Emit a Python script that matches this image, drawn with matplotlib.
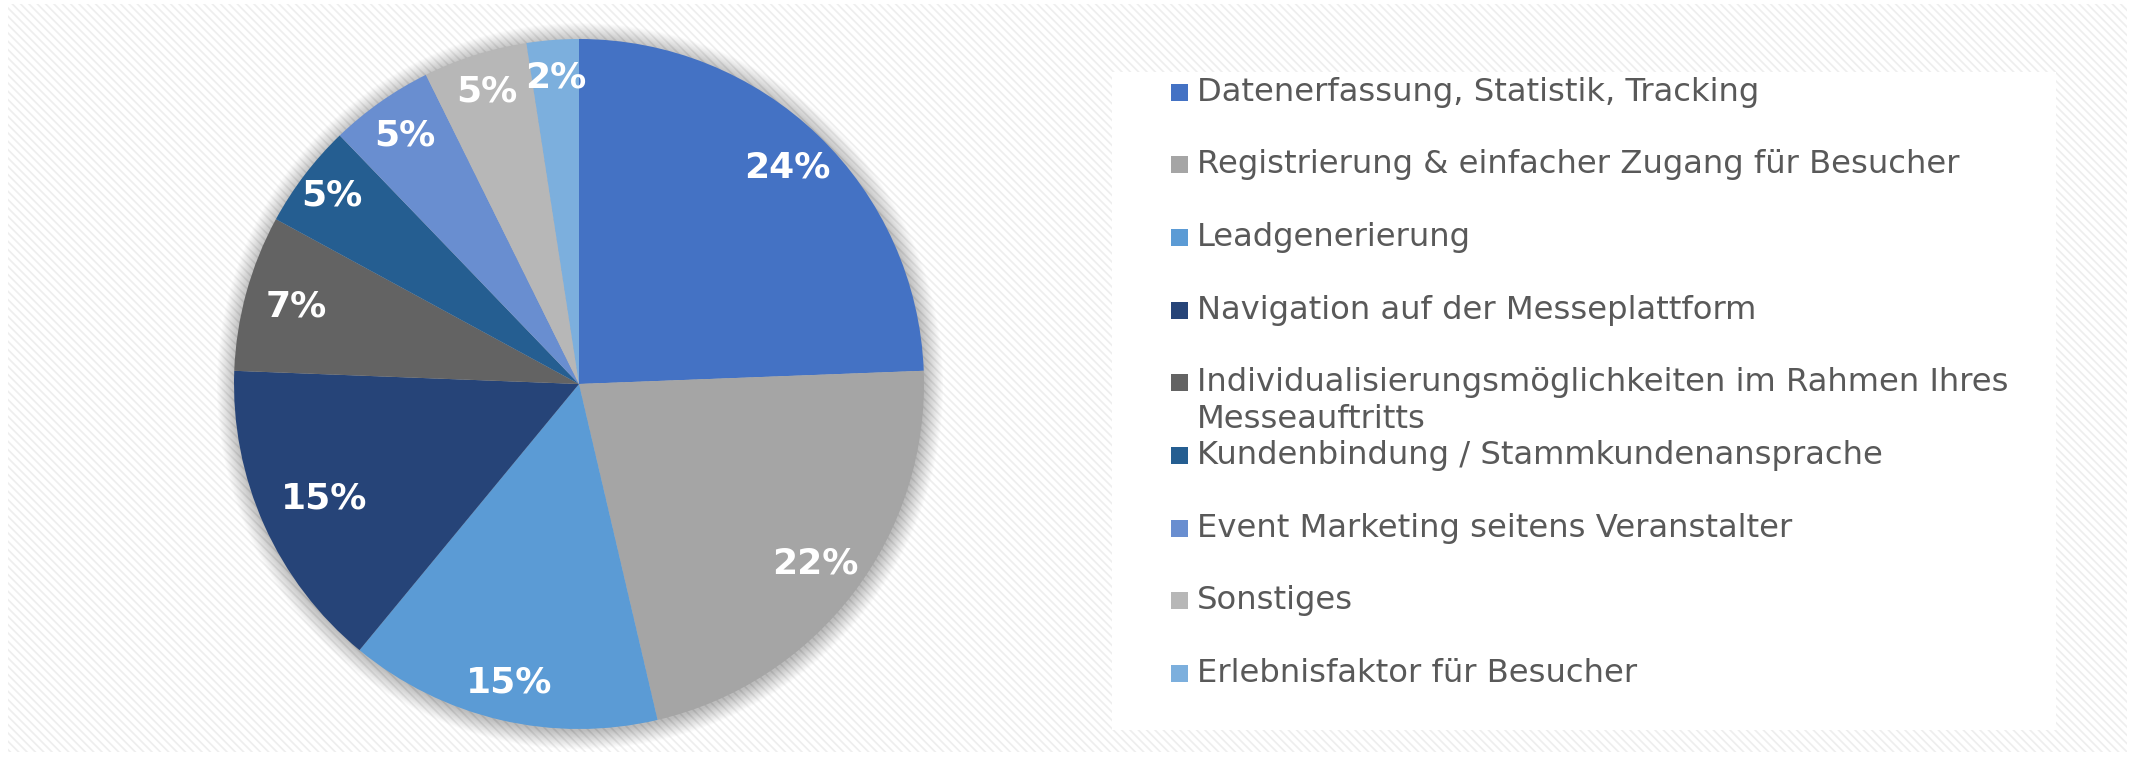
import matplotlib
matplotlib.use("Agg")
import matplotlib.pyplot as plt
import numpy as np
from matplotlib.patches import Rectangle, Circle

# survey answers (counts), order as in the legend
categories = [
    "Datenerfassung, Statistik, Tracking",
    "Registrierung & einfacher Zugang für Besucher",
    "Leadgenerierung",
    "Navigation auf der Messeplattform",
    "Individualisierungsmöglichkeiten im Rahmen Ihres\nMesseauftritts",
    "Kundenbindung / Stammkundenansprache",
    "Event Marketing seitens Veranstalter",
    "Sonstiges",
    "Erlebnisfaktor für Besucher",
]
counts = [10, 9, 6, 6, 3, 2, 2, 2, 1]
colors = ["#4472C4", "#A5A5A5", "#5B9BD5", "#264478", "#636363",
          "#255E91", "#698ED0", "#B7B7B7", "#7CAFDD"]
# radial position of each percentage label (Excel "best fit" look)
label_dist = [0.87, 0.86, 0.89, 0.81, 0.85, 0.90, 0.88, 0.89, 0.89]

W, H = 2131, 757
plt.rcParams["font.family"] = ["DejaVu Sans"]
plt.rcParams["hatch.linewidth"] = 1.2

fig = plt.figure(figsize=(W / 100, H / 100), dpi=100)
fig.patch.set_facecolor("white")


def fx(px):
    return px / W


def fy(py):
    # pixel measured from top -> figure fraction
    return 1 - py / H


# striped background
bg = Rectangle((fx(8), fy(752)), fx(2127 - 8), (752 - 4) / H,
               transform=fig.transFigure, facecolor="white",
               edgecolor="#eeeeee", hatch="\\\\\\\\", lw=0, zorder=0)
fig.add_artist(bg)

# white legend box
lg = Rectangle((fx(1112), fy(730)), fx(2056 - 1112), (730 - 72) / H,
               transform=fig.transFigure, facecolor="white",
               edgecolor="none", zorder=1)
fig.add_artist(lg)

# pie axes
cx, cy, R = 579, 384, 345
half = 1.2 * R
ax = fig.add_axes([fx(cx - half), fy(cy + half), fx(2 * half), 2 * half / H])
ax.patch.set_visible(False)

# soft shadow around the pie
for i in range(22):
    ax.add_patch(Circle((0.003, -0.006), 1.0 + i * 0.0025, color="black",
                        alpha=0.011, lw=0, zorder=0))

wedges, texts, autotexts = ax.pie(
    counts, colors=colors, startangle=90, counterclock=False,
    autopct="%1.0f%%", pctdistance=0.87, radius=1.0,
    wedgeprops=dict(linewidth=0),
    textprops=dict(color="white", fontsize=26, fontweight="bold"))
for w, t, d in zip(wedges, autotexts, label_dist):
    w.set_zorder(2)
    t.set_zorder(3)
    ang = np.deg2rad((w.theta1 + w.theta2) / 2)
    t.set_position((d * np.cos(ang), d * np.sin(ang)))
ax.set_xlim(-1.2, 1.2)
ax.set_ylim(-1.2, 1.2)
ax.set_aspect("equal")
ax.axis("off")

# legend entries
row0, pitch = 92, 72.7
for i, (lab, col) in enumerate(zip(categories, colors)):
    yc = row0 + i * pitch
    fig.add_artist(Rectangle((fx(1171), fy(yc + 8.5)), fx(17), 17 / H,
                             transform=fig.transFigure, facecolor=col,
                             edgecolor="none", zorder=2))
    for j, line in enumerate(lab.split("\n")):
        fig.text(fx(1197), fy(yc + j * 37), line, fontsize=23.2,
                 color="#595959", va="center", ha="left", zorder=3)

fig.savefig("out.png", dpi=100)
